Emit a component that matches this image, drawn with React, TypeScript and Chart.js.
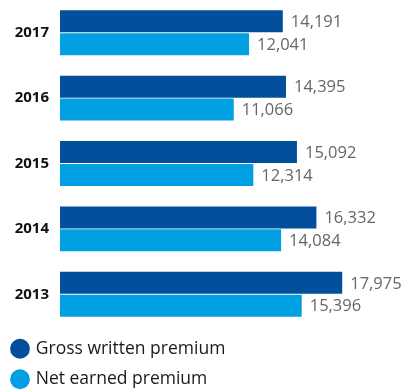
import React, { useEffect, useRef } from "react";
import { Chart, registerables } from "chart.js";

Chart.register(...registerables);

const years = ["2017", "2016", "2015", "2014", "2013"];
const grossWritten = [14191, 14395, 15092, 16332, 17975];
const netEarned = [12041, 11066, 12314, 14084, 15396];
const seriesNames = ["Gross written premium", "Net earned premium"];
const seriesColors = ["#034f9c", "#00a0e3"];

const valueLabels = {
  id: "valueLabels",
  afterDatasetsDraw(chart: any) {
    const ctx = chart.ctx;
    ctx.save();
    ctx.font = "400 16.5px 'Open Sans'";
    ctx.fillStyle = "#666666";
    ctx.textAlign = "left";
    ctx.textBaseline = "middle";
    chart.data.datasets.forEach((ds: any, di: number) => {
      const meta = chart.getDatasetMeta(di);
      meta.data.forEach((bar: any, i: number) => {
        const v = ds.data[i];
        ctx.fillText(v.toLocaleString("en-US"), bar.x + 8, bar.y + 1);
      });
    });
    ctx.restore();
  },
};

export default function App() {
  const ref = useRef<HTMLCanvasElement | null>(null);
  useEffect(() => {
    if (!ref.current) return;
    const chart = new Chart(ref.current, {
      type: "bar",
      data: {
        labels: years,
        datasets: [
          {
            label: seriesNames[0],
            data: grossWritten,
            backgroundColor: seriesColors[0],
            borderWidth: 0,
            barPercentage: 0.96,
            categoryPercentage: 0.7,
          },
          {
            label: seriesNames[1],
            data: netEarned,
            backgroundColor: seriesColors[1],
            borderWidth: 0,
            barPercentage: 0.96,
            categoryPercentage: 0.7,
          },
        ],
      },
      options: {
        indexAxis: "y",
        responsive: false,
        animation: false,
        devicePixelRatio: 1,
        layout: { padding: { top: 0, left: 0, right: 32, bottom: -8 } },
        scales: {
          x: { display: false, min: 0, max: 20000 },
          y: {
            grid: { display: false, drawTicks: false },
            border: { display: false },
            ticks: {
              padding: 11,
              color: "#111111",
              font: { family: "'Open Sans'", size: 15, weight: "bold" },
            },
            afterFit: (scale: any) => {
              scale.width = 60;
              scale.paddingTop = 0;
              scale.paddingBottom = 0;
            },
          },
        },
        plugins: {
          tooltip: { enabled: false },
          legend: {
            position: "bottom",
            align: "start",
            labels: {
              usePointStyle: true,
              pointStyle: "circle",
              boxWidth: 14,
              boxHeight: 14,
              padding: 13,
              color: "#1a1a1a",
              font: { family: "'Open Sans'", size: 17.5 },
            },
          },
        },
      },
      plugins: [valueLabels],
    });
    return () => chart.destroy();
  }, []);
  return (
    <div style={{ position: "absolute", left: 0, top: 0, width: 406, height: 390 }}>
      <canvas ref={ref} width={406} height={390} />
    </div>
  );
}
